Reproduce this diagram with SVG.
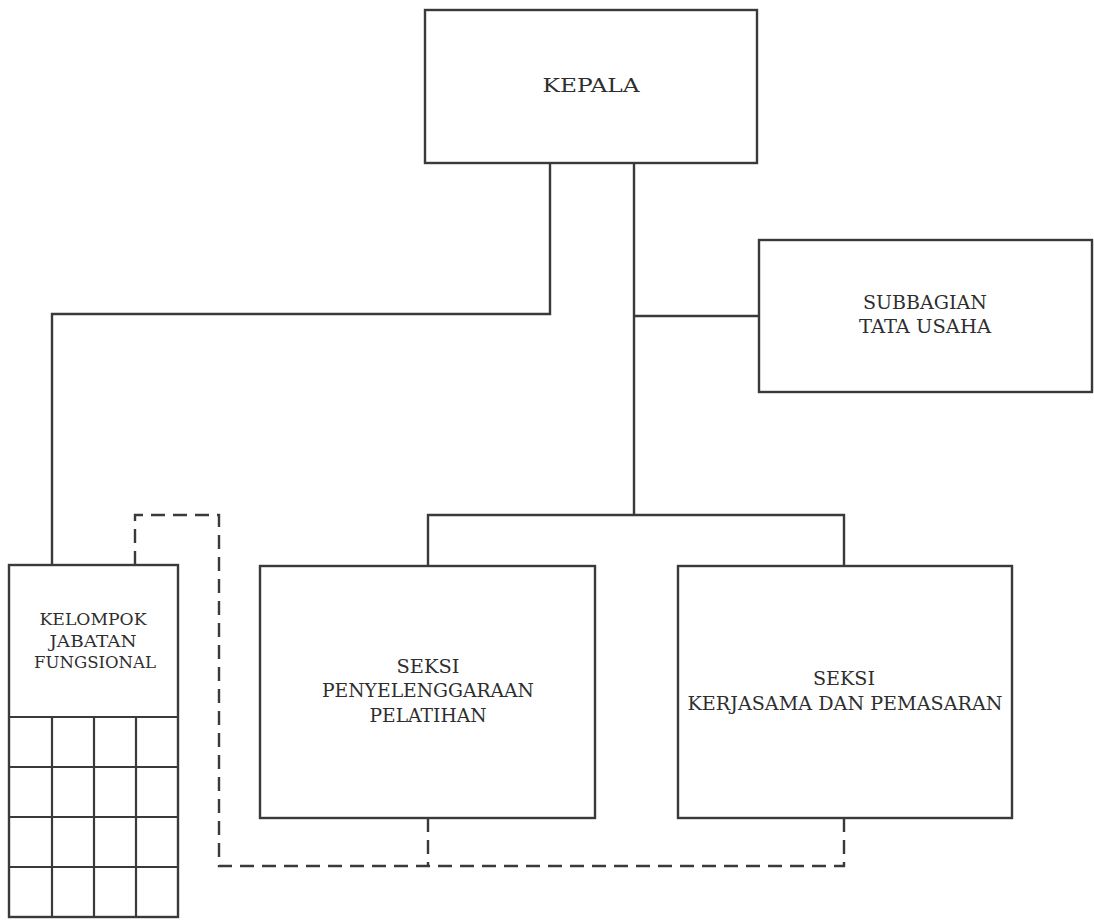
<svg xmlns="http://www.w3.org/2000/svg" width="1094" height="922" viewBox="0 0 1094 922">
  <style>
    .box { fill: none; stroke: #3a3a3a; stroke-width: 2.4; }
    .grid { fill: none; stroke: #3a3a3a; stroke-width: 2.2; }
    .line { fill: none; stroke: #3a3a3a; stroke-width: 2.4; }
    .dash { fill: none; stroke: #3a3a3a; stroke-width: 2.4; stroke-dasharray: 14 8; }
    .lbl { font-family: "DejaVu Serif", "Liberation Serif", serif; font-size: 18.5px; fill: #2e2e2e; text-anchor: middle; }
    .sm { font-size: 17.5px; }
  </style>
  <rect width="1094" height="922" fill="#ffffff"/>

  <!-- connectors -->
  <g id="connectors">
    <path class="line" d="M634,163 V515"/>
    <path class="line" d="M634,316 H759"/>
    <path class="line" d="M428,566 V515 H844 V566"/>
    <path class="line" d="M550,163 V314 H52 V566"/>
    <path class="dash" d="M135,565 V515 H219 V866 H844 V818"/>
    <path class="dash" d="M428,818 V866"/>
  </g>

  <g id="kepala">
    <rect class="box" x="425" y="10" width="332" height="153"/>
    <text class="lbl" x="591" y="92" textLength="97" lengthAdjust="spacingAndGlyphs">KEPALA</text>
  </g>

  <g id="subbagian-tata-usaha">
    <rect class="box" x="759" y="240" width="333" height="152"/>
    <text class="lbl" x="925" y="309" textLength="124" lengthAdjust="spacingAndGlyphs">SUBBAGIAN</text>
    <text class="lbl" x="925" y="333" textLength="132" lengthAdjust="spacingAndGlyphs">TATA USAHA</text>
  </g>

  <g id="kelompok-jabatan-fungsional">
    <rect class="box" x="9" y="565" width="169" height="352"/>
    <path class="grid" d="M9,717 H178 M9,767 H178 M9,817 H178 M9,867 H178 M52,717 V917 M94,717 V917 M136,717 V917"/>
    <text class="lbl sm" x="93" y="625" textLength="107" lengthAdjust="spacingAndGlyphs">KELOMPOK</text>
    <text class="lbl sm" x="93" y="647" textLength="87" lengthAdjust="spacingAndGlyphs">JABATAN</text>
    <text class="lbl sm" x="95" y="668" textLength="122" lengthAdjust="spacingAndGlyphs">FUNGSIONAL</text>
  </g>

  <g id="seksi-penyelenggaraan-pelatihan">
    <rect class="box" x="260" y="566" width="335" height="252"/>
    <text class="lbl" x="428" y="673" textLength="63" lengthAdjust="spacingAndGlyphs">SEKSI</text>
    <text class="lbl" x="428" y="697" textLength="212" lengthAdjust="spacingAndGlyphs">PENYELENGGARAAN</text>
    <text class="lbl" x="428" y="722" textLength="117" lengthAdjust="spacingAndGlyphs">PELATIHAN</text>
  </g>

  <g id="seksi-kerjasama-pemasaran">
    <rect class="box" x="678" y="566" width="334" height="252"/>
    <text class="lbl" x="844" y="685" textLength="62" lengthAdjust="spacingAndGlyphs">SEKSI</text>
    <text class="lbl" x="845" y="710" textLength="315" lengthAdjust="spacingAndGlyphs">KERJASAMA DAN PEMASARAN</text>
  </g>
</svg>
